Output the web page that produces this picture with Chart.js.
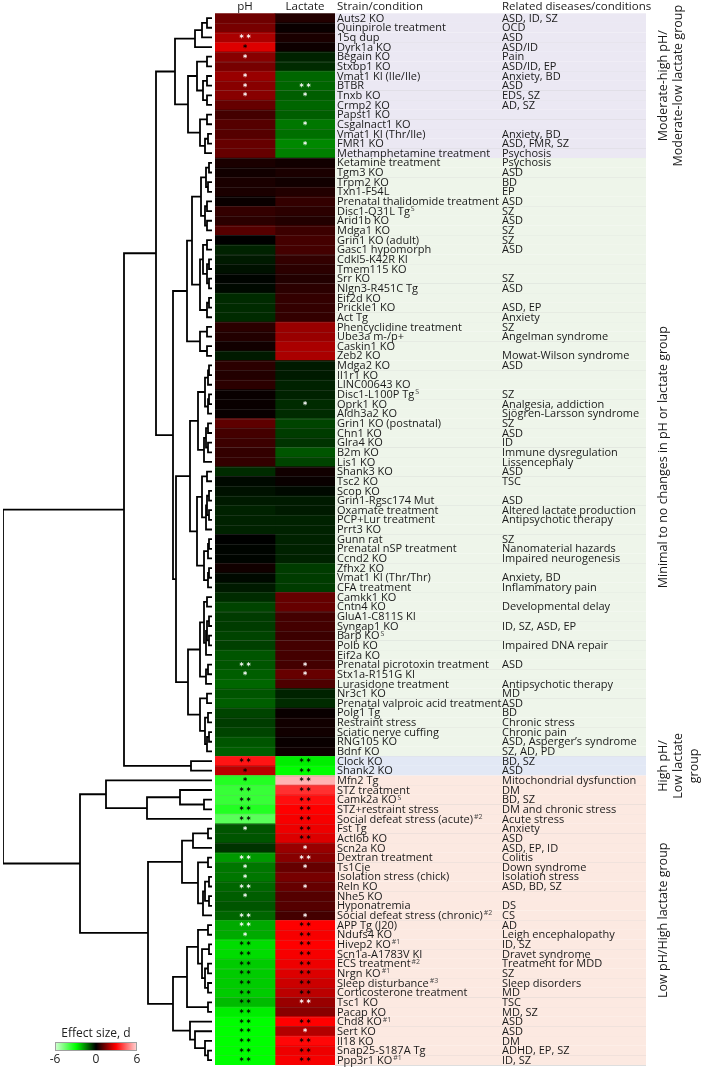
<!DOCTYPE html>
<html>
<head>
<meta charset="utf-8">
<script src="https://cdn.jsdelivr.net/npm/chart.js@4.4.1/dist/chart.umd.min.js"></script>
<style>
  body { margin: 0; background: #fff; }
  #wrap { position: relative; width: 704px; height: 1069px; overflow: hidden; font-family: "Open Sans", sans-serif; color: #222; }
  #dendro { position: absolute; left: 0; top: 0; }
  #heat { position: absolute; left: 215px; top: 0; }
  .cb-title { position: absolute; left: 36px; width: 120px; top: 1026px; text-align: center; font-size: 12px; line-height: 14px; }
  #cbar { position: absolute; left: 55px; top: 1042px; width: 82px; height: 9px; border: 1px solid #a0a0a0; box-sizing: border-box; }
  .cb-tick { position: absolute; top: 1052px; width: 30px; text-align: center; font-size: 12px; line-height: 14px; }
</style>
</head>
<body>
<div id="wrap">
  <canvas id="dendro" width="215" height="1069"></canvas>
  <canvas id="heat" width="489" height="1069"></canvas>
  <div class="cb-title">Effect size, d</div>
  <div id="cbar"></div>
  <div class="cb-tick" style="left:40px">-6</div>
  <div class="cb-tick" style="left:81px">0</div>
  <div class="cb-tick" style="left:122px">6</div>
</div>
<script>
// rows, top to bottom (^ marks a superscript)
const strains = [
  "Auts2 KO", "Quinpirole treatment", "15q dup", "Dyrk1a KO", "Begain KO",
  "Stxbp1 KO", "Vmat1 KI (Ile/Ile)", "BTBR", "Tnxb KO", "Crmp2 KO",
  "Papst1 KO", "Csgalnact1 KO", "Vmat1 KI (Thr/Ile)", "FMR1 KO", "Methamphetamine treatment",
  "Ketamine treatment", "Tgm3 KO", "Trpm2 KO", "Txn1-F54L", "Prenatal thalidomide treatment",
  "Disc1-Q31L Tg^S", "Arid1b KO", "Mdga1 KO", "Grin1 KO (adult)", "Gasc1 hypomorph",
  "Cdkl5-K42R KI", "Tmem115 KO", "Srr KO", "Nlgn3-R451C Tg", "Eif2d KO",
  "Prickle1 KO", "Act Tg", "Phencyclidine treatment", "Ube3a m-/p+", "Caskin1 KO",
  "Zeb2 KO", "Mdga2 KO", "Il1r1 KO", "LINC00643 KO", "Disc1-L100P Tg^S",
  "Oprk1 KO", "Aldh3a2 KO", "Grin1 KO (postnatal)", "Chn1 KO", "Glra4 KO",
  "B2m KO", "Lis1 KO", "Shank3 KO", "Tsc2 KO", "Scop KO",
  "Grin1-Rgsc174 Mut", "Oxamate treatment", "PCP+Lur treatment", "Prrt3 KO", "Gunn rat",
  "Prenatal nSP treatment", "Ccnd2 KO", "Zfhx2 KO", "Vmat1 KI (Thr/Thr)", "CFA treatment",
  "Camkk1 KO", "Cntn4 KO", "GluA1-C811S KI", "Syngap1 KO", "Barp KO^S",
  "Polb KO", "Eif2a KO", "Prenatal picrotoxin treatment", "Stx1a-R151G KI", "Lurasidone treatment",
  "Nr3c1 KO", "Prenatal valproic acid treatment", "Polg1 Tg", "Restraint stress", "Sciatic nerve cuffing",
  "RNG105 KO", "Bdnf KO", "Clock KO", "Shank2 KO", "Mfn2 Tg",
  "STZ treatment", "Camk2a KO^S", "STZ+restraint stress", "Social defeat stress (acute)^#2", "Fst Tg",
  "Actl6b KO", "Scn2a KO", "Dextran treatment", "Ts1Cje", "Isolation stress (chick)",
  "Reln KO", "Nhe5 KO", "Hyponatremia", "Social defeat stress (chronic)^#2", "APP Tg (J20)",
  "Ndufs4 KO", "Hivep2 KO^#1", "Scn1a-A1783V KI", "ECS treatment^#2", "Nrgn KO^#1",
  "Sleep disturbance^#3", "Corticosterone treatment", "Tsc1 KO", "Pacap KO", "Chd8 KO^#1",
  "Sert KO", "Il18 KO", "Snap25-S187A Tg", "Ppp3r1 KO^#1"
];

const diseases = [
  "ASD, ID, SZ", "OCD", "ASD", "ASD/ID", "Pain",
  "ASD/ID, EP", "Anxiety, BD", "ASD", "EDS, SZ", "AD, SZ",
  "", "", "Anxiety, BD", "ASD, FMR, SZ", "Psychosis",
  "Psychosis", "ASD", "BD", "EP", "ASD",
  "SZ", "ASD", "SZ", "SZ", "ASD",
  "", "", "SZ", "ASD", "",
  "ASD, EP", "Anxiety", "SZ", "Angelman syndrome", "",
  "Mowat-Wilson syndrome", "ASD", "", "", "SZ",
  "Analgesia, addiction", "Sjögren-Larsson syndrome", "SZ", "ASD", "ID",
  "Immune dysregulation", "Lissencephaly", "ASD", "TSC", "",
  "ASD", "Altered lactate production", "Antipsychotic therapy", "", "SZ",
  "Nanomaterial hazards", "Impaired neurogenesis", "", "Anxiety, BD", "Inflammatory pain",
  "", "Developmental delay", "", "ID, SZ, ASD, EP", "",
  "Impaired DNA repair", "", "ASD", "", "Antipsychotic therapy",
  "MD", "ASD", "BD", "Chronic stress", "Chronic pain",
  "ASD, Asperger’s syndrome", "SZ, AD, PD", "BD, SZ", "ASD", "Mitochondrial dysfunction",
  "DM", "BD, SZ", "DM and chronic stress", "Acute stress", "Anxiety",
  "ASD", "ASD, EP, ID", "Colitis", "Down syndrome", "Isolation stress",
  "ASD, BD, SZ", "", "DS", "CS", "AD",
  "Leigh encephalopathy", "ID, SZ", "Dravet syndrome", "Treatment for MDD", "SZ",
  "Sleep disorders", "MD", "TSC", "MD, SZ", "ASD",
  "ASD", "DM", "ADHD, EP, SZ", "ID, SZ"
];

// effect size d
const phValues = [
  1.3, 1.4, 2.0, 2.6, 1.6, 1.4, 1.8, 1.6, 1.6, 1.2,
  0.8, 1.0, 1.0, 1.2, 1.2, 0.3, 0.2, 0.3, 0.3, 0.1,
  0.6, 0.5, 1.0, 0.0, -0.4, -0.3, -0.2, -0.05, -0.1, -0.5,
  -0.5, -0.5, 0.5, 0.4, 0.2, -0.3, 0.5, 0.4, 0.5, 0.1,
  0.1, 0.1, 1.1, 0.8, 0.7, 0.6, 0.6, -0.5, -0.1, -0.2,
  -0.3, -0.4, -0.4, -0.4, 0.0, -0.05, -0.05, 0.2, -0.1, -0.3,
  -0.5, -0.8, -0.7, -0.7, -0.8, -0.75, -1.0, -1.0, -1.1, -1.2,
  -1.0, -1.1, -0.8, -0.7, -0.8, -1.0, -1.1, 3.3, 2.2, -3.5,
  -3.8, -3.8, -3.5, -4.3, -1.0, -1.0, -0.6, -1.8, -1.4, -1.4,
  -1.2, -1.1, -1.0, -1.2, -2.0, -2.0, -2.6, -2.6, -2.4, -2.4,
  -2.4, -2.4, -2.2, -2.8, -3.0, -3.0, -3.0, -3.0, -3.0
];

const lactateValues = [
  0.4, 0.1, 0.3, 0.15, -0.4, -0.5, -1.2, -1.2, -1.1, -1.2,
  -1.1, -1.4, -1.3, -1.6, -1.5, 0.2, 0.3, 0.2, 0.4, 0.6,
  0.5, 0.4, 0.7, 0.8, 0.8, 0.6, 0.5, 0.4, 0.5, 0.6,
  0.6, 0.6, 1.8, 1.8, 2.0, 2.0, -0.3, -0.3, -0.4, -0.4,
  -0.5, -0.5, -0.8, -0.7, -0.6, -1.0, -0.8, 0.2, 0.1, -0.1,
  -0.3, -0.3, -0.4, -0.4, -0.4, -0.4, -0.4, -0.7, -0.7, -0.7,
  1.2, 1.2, 0.8, 0.8, 0.7, 0.8, 0.8, 0.8, 1.2, 0.9,
  -0.4, -0.5, 0.1, 0.2, 0.2, 0.1, 0.15, -2.8, -3.0, 5.6,
  3.7, 3.2, 3.0, 2.9, 2.8, 2.6, 1.8, 1.6, 1.2, 1.4,
  1.2, 1.0, 1.0, 0.8, 3.0, 2.9, 3.0, 2.9, 2.8, 2.6,
  2.4, 2.2, 1.8, 1.6, 3.0, 2.1, 3.1, 2.8, 2.9
];

const phSig = [
  "", "", "**", "*", "*", "", "*", "*", "*", "",
  "", "", "", "", "", "", "", "", "", "",
  "", "", "", "", "", "", "", "", "", "",
  "", "", "", "", "", "", "", "", "", "",
  "", "", "", "", "", "", "", "", "", "",
  "", "", "", "", "", "", "", "", "", "",
  "", "", "", "", "", "", "", "**", "*", "",
  "", "", "", "", "", "", "", "**", "*", "*",
  "**", "**", "**", "**", "*", "", "", "**", "*", "*",
  "**", "*", "", "**", "**", "*", "**", "**", "**", "**",
  "**", "**", "**", "**", "**", "**", "**", "**", "**"
];

const lactateSig = [
  "", "", "", "", "", "", "", "**", "*", "",
  "", "*", "", "*", "", "", "", "", "", "",
  "", "", "", "", "", "", "", "", "", "",
  "", "", "", "", "", "", "", "", "", "",
  "*", "", "", "", "", "", "", "", "", "",
  "", "", "", "", "", "", "", "", "", "",
  "", "", "", "", "", "", "", "*", "*", "",
  "", "", "", "", "", "", "", "**", "**", "**",
  "**", "**", "**", "**", "**", "**", "*", "**", "*", "",
  "*", "", "", "*", "**", "**", "**", "**", "**", "**",
  "**", "**", "**", "", "**", "*", "**", "**", "**"
];

// groups: first row, last row, label lines, fill
const groupStart = [0, 15, 77, 79];
const groupEnd = [14, 76, 78, 108];
const groupNames = [
  ["Moderate-high pH/", "Moderate-low lactate group"],
  ["Minimal to no changes in pH or lactate group"],
  ["High pH/", "Low lactate", "group"],
  ["Low pH/High lactate group"]
];
const groupFill = ["#ebe8f3", "#eef5ea", "#e2e8f5", "#fce9e1"];

// dendrogram: [left, right, linkage distance], leaves are row indices
const treeModerate = [[[[0, 1, 0.5], 2, 1.0], 3, 1.7],
  [[[4, 5, 0.5], [[6, 7, 0.5], [8, 9, 0.5], 0.9], 1.5], [[10, 11, 0.5], [[12, 13, 0.4], 14, 0.7], 1.2], 2.4], 3.7];
const treeMinimalA = [[[[[15, 16, 0.3], [17, 18, 0.4], 0.6], [[19, 20, 0.5], [21, 22, 0.5], 0.7], 1.1],
  [[[23, 24, 0.5], [[25, 26, 0.3], [27, 28, 0.3], 0.5], 0.9], [[29, 30, 0.3], 31, 0.5], 1.2], 2.0],
  [[32, 33, 0.5], [34, 35, 0.5], 1.2], 2.5];
const treeMinimalB = [[[[[36, 37, 0.3], 38, 0.4], [[39, 40, 0.3], 41, 0.4], 0.7], [[[42, 43, 0.4], [44, 45, 0.4], 0.6], 46, 0.8], 1.4],
  [[[47, 48, 0.5], [[[49, 50, 0.3], [51, 52, 0.3], 0.5], 53, 0.6], 1.0], [[[54, 55, 0.3], 56, 0.4], [[57, 58, 0.3], 59, 0.4], 0.8], 1.5], 2.2];
const treeMinimalC = [[[[60, 61, 0.5], [[[62, 63, 0.3], [64, 65, 0.3], 0.5], 66, 0.6], 0.8], [[67, 68, 0.4], 69, 0.6], 1.2],
  [[70, 71, 0.5], [[72, 73, 0.4], [[74, 75, 0.3], 76, 0.5], 0.7], 1.2], 2.4];
const treeHigh = [77, 78, 2.1];
const treeLow = [[79, [[80, [81, 82, 0.8], 3.2], 83, 6.5], 10.6],
  [[[[84, 85, 0.4], 86, 1.9], [[87, 88, 0.4], [[[89, 90, 0.3], [91, 92, 0.3], 0.7], 93, 0.9], 1.4], 3.0],
   [[[[94, 95, 0.4], [[96, 97, 0.3], [[98, 99, 0.4], [100, 101, 0.4], 0.7], 1.0], 1.4], [102, 103, 0.4], 2.5],
    [104, [105, [106, [107, 108, 0.4], 0.7], 1.7], 2.2], 3.9], 6.4], 13.2];
const tree = [[[treeModerate, [treeMinimalA, [treeMinimalB, treeMinimalC, 3.6], 3.9], 5.6], treeHigh, 8.8], treeLow, 20.9];

function colorFor(d) {
  const t = Math.min(Math.abs(d), 6);
  const main = Math.round(255 * Math.min(t, 3) / 3);
  const light = t > 3 ? Math.round(205 * (t - 3) / 3) : 0;
  return d >= 0 ? `rgb(${main},${light},${light})` : `rgb(${light},${main},${light})`;
}

// colour bar
let stops = [];
for (let d = -6; d <= 6.001; d += 0.5) stops.push(colorFor(d) + ' ' + ((d + 6) / 12 * 100).toFixed(1) + '%');
document.getElementById('cbar').style.background = 'linear-gradient(to right,' + stops.join(',') + ')';

// dendrogram links
const links = [];
function walk(node) {
  if (typeof node === 'number') return { y: node, d: 0 };
  const a = walk(node[0]), b = walk(node[1]), h = node[2];
  links.push([{ x: a.d, y: a.y }, { x: h, y: a.y }, { x: h, y: b.y }, { x: b.d, y: b.y }]);
  return { y: (a.y + b.y) / 2, d: h };
}
walk(tree);

const nRows = strains.length;
const TOP = 13.3, BOTTOM = 4;

new Chart(document.getElementById('dendro'), {
  type: 'scatter',
  data: {
    datasets: links.map(pts => ({
      data: pts, showLine: true, pointRadius: 0, borderColor: '#000', borderWidth: 1.8,
      borderJoinStyle: 'miter', tension: 0
    }))
  },
  options: {
    responsive: false, animation: false, devicePixelRatio: 1,
    layout: { padding: { left: 3, right: 3, top: TOP, bottom: BOTTOM } },
    plugins: { legend: { display: false }, tooltip: { enabled: false } },
    scales: {
      x: { type: 'linear', reverse: true, min: 0, max: 20.9, display: false },
      y: { type: 'linear', reverse: true, min: -0.5, max: nRows - 0.5, display: false }
    }
  }
});

const LABEL_FONT = '11px "Open Sans"';

function drawLabel(ctx, text, x, y) {
  const parts = text.split('^');
  ctx.font = LABEL_FONT;
  ctx.fillText(parts[0], x, y);
  if (parts[1]) {
    const w = ctx.measureText(parts[0]).width;
    ctx.font = '7px "Open Sans"';
    ctx.fillStyle = '#444';
    ctx.fillText(parts[1], x + w + 1, y - 2.5);
    ctx.fillStyle = '#1a1a1a';
  }
}

const heatText = {
  id: 'heatText',
  beforeDatasetsDraw(chart) {
    const { ctx, chartArea, scales: { y } } = chart;
    const rowH = y.getPixelForValue(1) - y.getPixelForValue(0);
    const x0 = chartArea.right, x1 = 431;
    ctx.save();
    groupStart.forEach((s, g) => {
      for (let i = s; i <= groupEnd[g]; i++) {
        const yc = y.getPixelForValue(i);
        ctx.fillStyle = groupFill[g];
        ctx.fillRect(x0, yc - rowH / 2, x1 - x0, rowH);
        ctx.strokeStyle = 'rgba(0,0,0,0.13)';
        ctx.lineWidth = 1;
        ctx.beginPath();
        ctx.moveTo(x0, Math.round(yc + rowH / 2) + 0.5);
        ctx.lineTo(x1, Math.round(yc + rowH / 2) + 0.5);
        ctx.stroke();
      }
    });
    ctx.restore();
  },
  afterDatasetsDraw(chart) {
    const { ctx, chartArea, scales: { x, y } } = chart;
    const rowH = y.getPixelForValue(1) - y.getPixelForValue(0);
    ctx.save();
    // faint cell separators
    ctx.strokeStyle = 'rgba(140,140,140,0.18)';
    ctx.lineWidth = 1;
    for (let i = 0; i < nRows - 1; i++) {
      const yy = Math.round(y.getPixelForValue(i) + rowH / 2) + 0.5;
      ctx.beginPath(); ctx.moveTo(chartArea.left, yy); ctx.lineTo(chartArea.right, yy); ctx.stroke();
    }
    // significance marks
    ctx.font = 'bold 8px "DejaVu Sans"';
    ctx.textAlign = 'center';
    ctx.textBaseline = 'middle';
    const marks = [[phSig, phValues, 0.5], [lactateSig, lactateValues, 1.5]];
    marks.forEach(([sig, vals, col]) => {
      const xc = x.getPixelForValue(col);
      sig.forEach((s, i) => {
        if (!s) return;
        const yc = y.getPixelForValue(i) + 2;
        ctx.fillStyle = Math.abs(vals[i]) >= 2.15 ? '#000' : '#fff';
        if (s === '**') { ctx.fillText('*', xc - 3.5, yc); ctx.fillText('*', xc + 3.5, yc); }
        else ctx.fillText('*', xc, yc);
      });
    });
    // row labels
    ctx.textAlign = 'left';
    ctx.fillStyle = '#1a1a1a';
    strains.forEach((s, i) => {
      const yc = y.getPixelForValue(i) + 0.5;
      drawLabel(ctx, s, chartArea.right + 2, yc);
      ctx.font = LABEL_FONT;
      if (diseases[i]) ctx.fillText(diseases[i], 287, yc);
    });
    // headers
    ctx.font = '11.5px "Open Sans"';
    ctx.textAlign = 'center';
    ctx.fillText('pH', x.getPixelForValue(0.5), 6.5);
    ctx.fillText('Lactate', x.getPixelForValue(1.5), 6.5);
    ctx.textAlign = 'left';
    ctx.fillText('Strain/condition', chartArea.right + 2, 6.5);
    ctx.fillText('Related diseases/conditions', 287, 6.5);
    // group labels
    ctx.font = '12.5px "Open Sans"';
    ctx.textAlign = 'center';
    groupNames.forEach((lines, g) => {
      const yc = (y.getPixelForValue(groupStart[g]) + y.getPixelForValue(groupEnd[g])) / 2;
      ctx.save();
      ctx.translate(448, yc);
      ctx.rotate(-Math.PI / 2);
      lines.forEach((t, k) => ctx.fillText(t, 0, k * 15.5));
      ctx.restore();
    });
    ctx.restore();
  }
};

new Chart(document.getElementById('heat'), {
  type: 'bar',
  data: {
    labels: strains,
    datasets: [
      { label: 'pH', data: phValues.map(() => [0, 1]), backgroundColor: phValues.map(colorFor),
        grouped: false, barPercentage: 1, categoryPercentage: 1, borderWidth: 0 },
      { label: 'Lactate', data: lactateValues.map(() => [1, 2]), backgroundColor: lactateValues.map(colorFor),
        grouped: false, barPercentage: 1, categoryPercentage: 1, borderWidth: 0 }
    ]
  },
  options: {
    indexAxis: 'y',
    responsive: false, animation: false, devicePixelRatio: 1,
    layout: { padding: { left: 0, right: 369, top: TOP, bottom: BOTTOM } },
    plugins: { legend: { display: false }, tooltip: { enabled: false } },
    scales: {
      x: { type: 'linear', min: 0, max: 2, display: false },
      y: { display: false }
    }
  },
  plugins: [heatText]
});
</script>
</body>
</html>
